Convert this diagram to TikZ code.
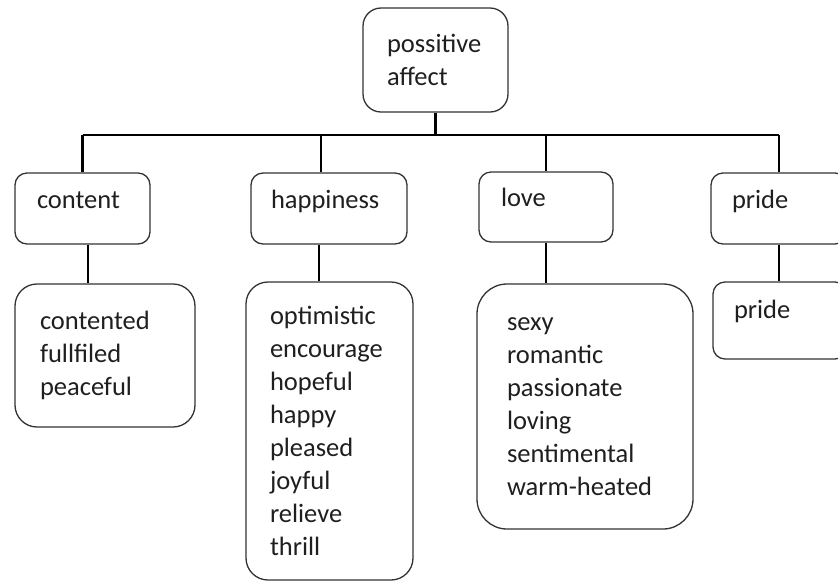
\documentclass[tikz,border=0pt]{standalone}
\usepackage{fontspec}
\setmainfont{Carlito}
\usetikzlibrary{positioning}
\begin{document}
\begin{tikzpicture}[
  x=1pt,y=-1pt,
  box/.style={rectangle,draw=black!80,line width=1.3pt,align=left,inner ysep=2pt,text=black!88,font=\fontsize{26.5}{33}\selectfont},
  catbox/.style={box,rounded corners=12pt,minimum height=71pt,text height=19pt,text depth=20pt},
  listbox/.style={box,rounded corners=22pt},
  link/.style={line width=2.3pt}
]
\useasboundingbox (0,0) rectangle (838,582);
% top node and the categories
\node[box,rounded corners=18pt,minimum height=104pt,inner xsep=24pt,text width=97pt] (affect) at (435.5,60) {possitive\\affect};
\node[catbox,inner xsep=22pt,text width=91pt] (content) at (82.5,208.5) {content};
\node[catbox,inner xsep=20pt,text width=116pt] (happiness) at (329,208.5) {happiness};
\node[catbox,inner xsep=22pt,text width=90pt,minimum height=70pt] (love) at (546,207) {love};
\node[catbox,inner xsep=21pt,text width=94pt] (pride) at (779,208.5) {pride};
% word lists
\node[listbox,inner xsep=25pt,text width=130pt,minimum height=143pt] (contentlist) at (105,355.5) {contented\\fullfiled\\peaceful};
\node[listbox,inner xsep=24pt,text width=119pt,minimum height=298pt] (happinesslist) at (329.5,431) {optimistic\\encourage\\hopeful\\happy\\pleased\\joyful\\relieve\\thrill};
\node[listbox,rounded corners=30pt,inner xsep=30pt,text width=156pt,minimum height=245pt] (lovelist) at (585,406.5) {sexy\\romantic\\passionate\\loving\\sentimental\\warm-heated};
\node[catbox,inner xsep=21pt,text width=92pt,minimum height=77pt,text depth=24pt] (pridelist) at (780,320.5) {pride};
% connectors
\coordinate (bus) at (0,135);
\coordinate (hdrop) at ([xshift=-8pt]happiness.north);
\coordinate (cdown) at ([xshift=5.5pt]content.south);
\coordinate (hdown) at ([xshift=-10pt]happiness.south);
\draw[link] (content.north |- bus) -- (pride.north |- bus);
\draw[link] (affect.south) -- (affect.south |- bus);
\draw[link] (content.north |- bus) -- (content.north);
\draw[link] (hdrop |- bus) -- (hdrop);
\draw[link] (love.north |- bus) -- (love.north);
\draw[link] (pride.north |- bus) -- (pride.north);
\draw[link] (cdown) -- (cdown |- contentlist.north);
\draw[link] (hdown) -- (hdown |- happinesslist.north);
\draw[link] (love.south) -- (love.south |- lovelist.north);
\draw[link] (pride.south) -- (pride.south |- pridelist.north);
\end{tikzpicture}
\end{document}
